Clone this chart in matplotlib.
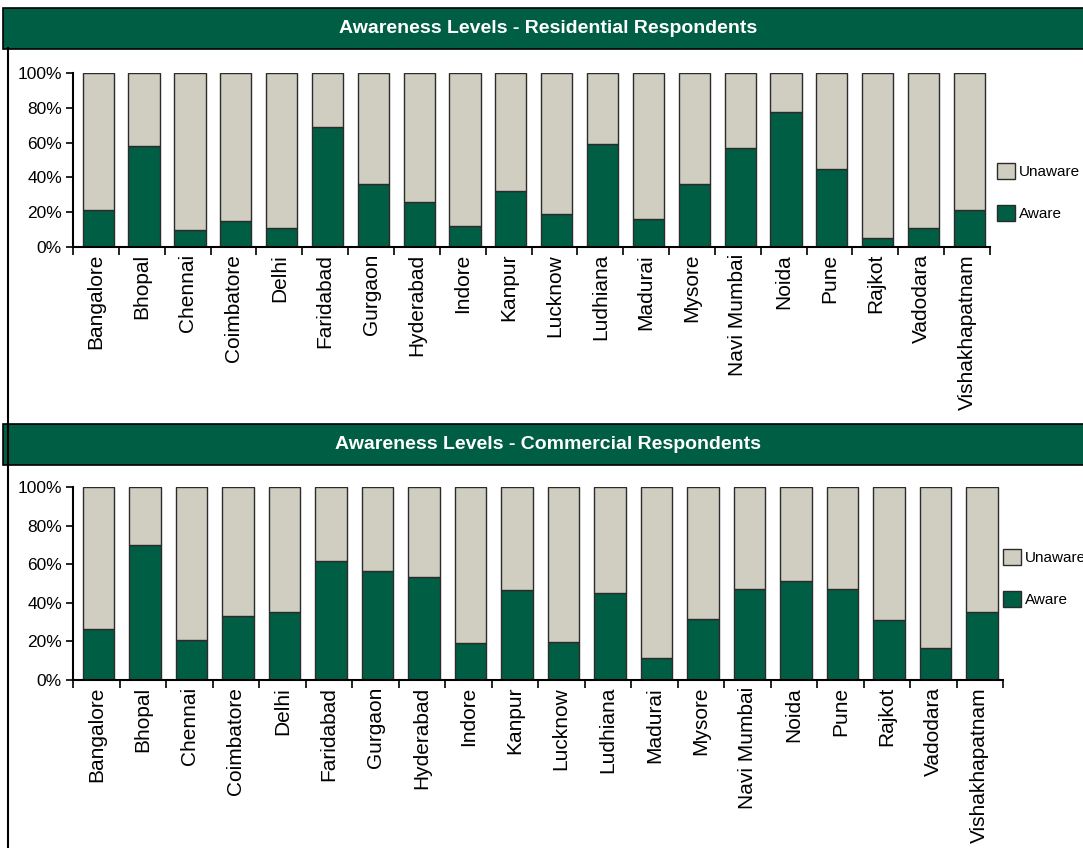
import matplotlib
matplotlib.use("Agg")
import matplotlib.pyplot as plt
from matplotlib.patches import Rectangle, Patch
from matplotlib.lines import Line2D
import numpy as np

plt.rcParams['font.family'] = ['Liberation Sans', 'DejaVu Sans']

cities = ["Bangalore", "Bhopal", "Chennai", "Coimbatore", "Delhi", "Faridabad",
          "Gurgaon", "Hyderabad", "Indore", "Kanpur", "Lucknow", "Ludhiana",
          "Madurai", "Mysore", "Navi Mumbai", "Noida", "Pune", "Rajkot",
          "Vadodara", "Vishakhapatnam"]
residential_aware = [21, 58, 10, 15, 11, 69, 36, 26, 12, 32,
                     19, 59, 16, 36, 57, 77.5, 45, 5, 11, 21]
commercial_aware = [26.5, 69.7, 20.5, 33, 35, 61.4, 56.3, 53.2, 19.2, 46.8,
                    19.7, 45, 11.3, 31.6, 47.3, 51.3, 46.9, 31.1, 16.4, 35.4]
titles = ["Awareness Levels - Residential Respondents",
          "Awareness Levels - Commercial Respondents"]
yticks = [0, 20, 40, 60, 80, 100]

GREEN = "#005E44"
GRAY = "#D0CEC1"
EDGE = "#2b2b2b"

W, H = 1083, 848
fig = plt.figure(figsize=(W / 100, H / 100), dpi=100)

def fx(px):
    return px / W

def fy(py):
    return 1 - py / H

# frame / title bands
fig.add_artist(Line2D([fx(8), fx(8)], [fy(48), fy(848)], color="black", lw=1.5))
bands = [(8, 49), (424, 465)]
for (t, b), title in zip(bands, titles):
    fig.add_artist(Rectangle((fx(3), fy(b)), 1.0, (b - t) / H,
                             facecolor=GREEN, edgecolor="black", lw=1.2))
    fig.text(fx(548), fy((t + b) / 2), title, color="white", fontsize=14,
             fontweight="bold", ha="center", va="center")

axes_px = [(73, 990, 73, 247, 997, 171), (73, 1003, 487, 680, 1003, 557)]
datasets = [residential_aware, commercial_aware]

for (l, r, t, b, lgx, lgy), aware in zip(axes_px, datasets):
    ax = fig.add_axes([fx(l), fy(b), fx(r) - fx(l), (b - t) / H])
    x = np.arange(len(cities))
    aware = np.array(aware, dtype=float)
    unaware = 100 - aware
    ax.bar(x + 0.05, aware, width=0.68, color=GREEN, edgecolor=EDGE, lw=1.0, label="Aware")
    ax.bar(x + 0.05, unaware, bottom=aware, width=0.68, color=GRAY, edgecolor=EDGE, lw=1.0,
           label="Unaware")
    ax.set_xlim(-0.5, len(cities) - 0.5)
    ax.set_ylim(0, 100)
    ax.spines['top'].set_visible(False)
    ax.spines['right'].set_visible(False)
    ax.spines['left'].set_linewidth(1.5)
    ax.spines['bottom'].set_linewidth(1.5)
    ax.set_yticks(yticks)
    ax.set_yticklabels([f"{v}%" for v in yticks], fontsize=12.5)
    ax.tick_params(axis='y', length=5, width=1.2, pad=3)
    ax.set_xticks(x)
    ax.set_xticklabels(cities, rotation=90, fontsize=15)
    ax.tick_params(axis='x', which='major', length=0, pad=5)
    ax.set_xticks(np.arange(len(cities) + 1) - 0.5, minor=True)
    ax.tick_params(axis='x', which='minor', length=6, width=1.2)
    handles = [Patch(facecolor=GRAY, edgecolor=EDGE, label="Unaware"),
               Patch(facecolor=GREEN, edgecolor=EDGE, label="Aware")]
    fig.legend(handles=handles, loc="upper left",
               bbox_to_anchor=(fx(lgx - 6), fy(lgy - 14)), frameon=False,
               fontsize=11, handlelength=1.2, handleheight=1.2,
               handletextpad=0.25, labelspacing=1.7, borderaxespad=0)

fig.savefig("out.png", dpi=100)
